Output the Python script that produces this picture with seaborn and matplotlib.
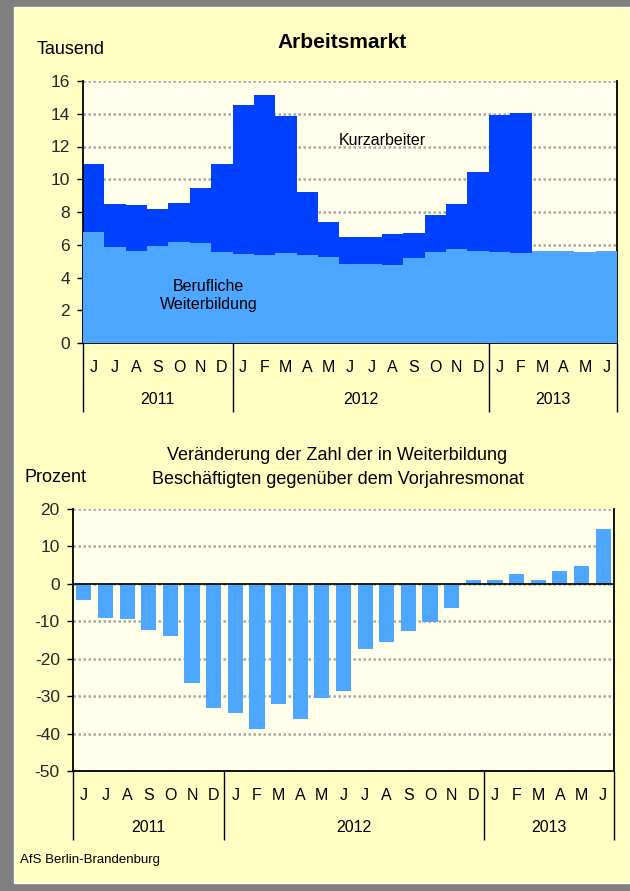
import numpy as np
import pandas as pd
import matplotlib
matplotlib.use("Agg")
import matplotlib.pyplot as plt
import matplotlib.transforms as mtransforms
from matplotlib.patches import Rectangle
import seaborn as sns

# ---------------- data ----------------
months = ["J", "J", "A", "S", "O", "N", "D",
          "J", "F", "M", "A", "M", "J", "J", "A", "S", "O", "N", "D",
          "J", "F", "M", "A", "M", "J"]
years = ["2011", "2012", "2013"]
year_month_counts = [7, 12, 6]

# Tausend
weiterbildung = [6.75, 5.84, 5.64, 5.92, 6.14, 6.12, 5.58,
                 5.45, 5.37, 5.47, 5.35, 5.27, 4.80, 4.82, 4.74, 5.19, 5.53, 5.74, 5.62,
                 5.53, 5.51, 5.64, 5.64, 5.58, 5.64]
kurzarbeiter = [4.18, 2.65, 2.77, 2.28, 2.39, 3.32, 5.35,
                9.10, 9.77, 8.39, 3.87, 2.10, 1.69, 1.63, 1.91, 1.50, 2.26, 2.77, 4.84,
                8.39, 8.54, 0.0, 0.0, 0.0, 0.0]

# Prozent
veraenderung = [-4.3, -9.2, -9.4, -12.3, -13.9, -26.6, -33.1,
                -34.5, -38.7, -32.1, -36.1, -30.5, -28.6, -17.4, -15.5, -12.6, -10.3, -6.4, 1.0,
                1.0, 2.6, 1.0, 3.4, 4.7, 14.6]

# ---------------- style ----------------
sns.set_theme(style="white")
plt.rcParams["font.family"] = ["Liberation Sans", "DejaVu Sans"]
plt.rcParams["axes.unicode_minus"] = False

W, H = 630, 891
fig = plt.figure(figsize=(W / 100, H / 100), dpi=100)
fig.patch.set_facecolor("#808080")
panel = Rectangle((14 / W, 1 - 883 / H), (W - 14) / W, (883 - 7) / H,
                  transform=fig.transFigure, facecolor="#FFFFC4",
                  edgecolor="#FFFFE8", linewidth=1.0, zorder=-10)
fig.patches.append(panel)

DARK = "#0040FF"
LIGHT = "#4DA6FF"
GRID = "#A8A8A8"
PLOTBG = "#FFFFEC"

def fx(px):
    return px / W

def fy(py):
    return 1 - py / H

def decorate_x(ax, month_off, year_off, sep_len):
    n = len(months)
    ax.set_xlim(-0.5, n - 0.5)
    ax.set_xticks(np.arange(n))
    ax.set_xticklabels([])
    ax.tick_params(axis="x", length=0)
    trans = mtransforms.blended_transform_factory(ax.transData, ax.transAxes)
    for i, m in enumerate(months):
        ax.text(i, month_off, m, transform=trans, ha="center", va="center",
                fontsize=11.5, color="black")
    start = -0.5
    bounds = [start]
    for y, c in zip(years, year_month_counts):
        ax.text(start + c / 2, year_off, y, transform=trans, ha="center",
                va="center", fontsize=11.5, color="black")
        start += c
        bounds.append(start)
    for b in bounds:
        ax.plot([b, b], [0, sep_len], transform=trans, color="black",
                lw=1.0, clip_on=False, solid_capstyle="butt")

def style_axes(ax):
    ax.set_facecolor(PLOTBG)
    for s in ["left", "bottom", "right"]:
        ax.spines[s].set_color("black")
        ax.spines[s].set_linewidth(1.3)
        ax.spines[s].set_visible(True)
    ax.spines["top"].set_visible(False)
    ax.tick_params(axis="y", direction="out", length=4.5, width=1.0,
                   color="black", labelsize=12.5, pad=5, left=True)
    ax.yaxis.grid(True, color=GRID, linestyle=(0, (1, 1)), linewidth=1.8)
    ax.xaxis.grid(False)
    ax.set_axisbelow(True)
    ax.set_xlabel("")
    ax.set_ylabel("")

# ---------------- top chart ----------------
ax1 = fig.add_axes([fx(83), fy(343), fx(617) - fx(83), fy(81) - fy(343)])
style_axes(ax1)
n = len(months)
edges = np.arange(n + 1) - 0.5
wb = np.array(weiterbildung)
tot = wb + np.array(kurzarbeiter)
ku_mask = np.array(kurzarbeiter) > 0
last_k = np.max(np.where(ku_mask)[0])
ax1.fill_between(edges[:last_k + 2], np.append(tot[:last_k + 1], tot[last_k]),
                 step="post", color=DARK, linewidth=0, zorder=2)
ax1.fill_between(edges, np.append(wb, wb[-1]), step="post", color=LIGHT,
                 linewidth=0, zorder=3)
ax1.set_ylim(0, 16)
ax1.set_yticks(np.arange(0, 17, 2))
decorate_x(ax1, -25 / 262, -57 / 262, -69 / 262)
ax1.text(13.5, 12.35, "Kurzarbeiter", ha="center", va="center", fontsize=11.5,
         color="black", zorder=5)
ax1.text(5.38, 2.89, "Berufliche\nWeiterbildung", ha="center", va="center",
         fontsize=11.5, color="black", linespacing=1.3, zorder=5)

fig.text(fx(342.5), fy(43), "Arbeitsmarkt", ha="center", va="center",
         fontsize=15, fontweight="bold", color="black")
fig.text(fx(37), fy(49), "Tausend", ha="left", va="center", fontsize=13,
         color="black")

# ---------------- bottom chart ----------------
ax2 = fig.add_axes([fx(73), fy(771), fx(614) - fx(73), fy(509) - fy(771)])
style_axes(ax2)
df = pd.DataFrame({"idx": np.arange(n), "wert": veraenderung})
sns.barplot(data=df, x="idx", y="wert", color=LIGHT, saturation=1,
            width=0.7, ax=ax2, linewidth=0, zorder=3)
ax2.axhline(0, color="black", lw=1.2, zorder=4)
ax2.set_ylim(-50, 20)
ax2.set_yticks(np.arange(-50, 21, 10))
ax2.set_xlabel("")
ax2.set_ylabel("")
decorate_x(ax2, -24 / 262, -57 / 262, -69 / 262)

fig.text(fx(337.5), fy(456), "Veränderung der Zahl der in Weiterbildung",
         ha="center", va="center", fontsize=13, color="black")
fig.text(fx(337.5), fy(480), "Beschäftigten gegenüber dem Vorjahresmonat",
         ha="center", va="center", fontsize=13, color="black")
fig.text(fx(24), fy(477), "Prozent", ha="left", va="center", fontsize=13,
         color="black")
fig.text(fx(20), fy(860), "AfS Berlin-Brandenburg", ha="left", va="center",
         fontsize=9.5, color="black")

fig.savefig("out.png", dpi=100, facecolor=fig.get_facecolor())
